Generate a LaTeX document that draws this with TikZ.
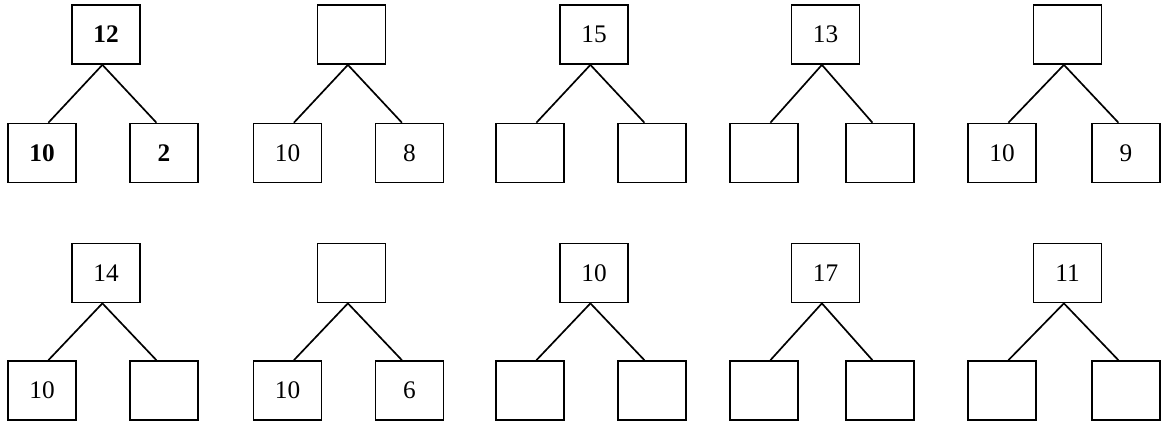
\documentclass[tikz,border=0pt]{standalone}
\usepackage{fontspec}
\setmainfont{Liberation Serif}
\usetikzlibrary{shapes}

\tikzset{
  numbox/.style={draw, line width=1.2pt, minimum width=1.7cm, minimum height=1.475cm,
    inner sep=0pt, font=\fontsize{18}{20}\selectfont},
  branch/.style={line width=1.2pt}
}

\begin{document}
\begin{tikzpicture}
  \useasboundingbox (0,0) rectangle (29.1,-10.525);
  %% Upper row
  \path (2.65,-0.8625) node(t1)[numbox] {\bf 12};
  \path (1.05,-3.825) node(l1)[numbox] {\bf 10};
  \path (4.1,-3.825) node(r1)[numbox] {\bf 2};

  \path (8.7875,-0.8625) node(t2)[numbox] {};
  \path (7.1875,-3.825) node(l2)[numbox] {10};
  \path (10.2375,-3.825) node(r2)[numbox] {8};

  \path (14.85,-0.8625) node(t3)[numbox] {15};
  \path (13.25,-3.825) node(l3)[numbox] {};
  \path (16.3,-3.825) node(r3)[numbox] {};

  \path (20.6375,-0.8625) node(t4)[numbox] {13};
  \path (19.1,-3.825) node(l4)[numbox] {};
  \path (22.0,-3.825) node(r4)[numbox] {};

  \path (26.6875,-0.8625) node(t5)[numbox] {};
  \path (25.05,-3.825) node(l5)[numbox] {10};
  \path (28.15,-3.825) node(r5)[numbox] {9};

  %% Lower row
  \path (2.65,-6.825) node(t6)[numbox] {14};
  \path (1.05,-9.7625) node(l6)[numbox] {10};
  \path (4.1,-9.7625) node(r6)[numbox] {};

  \path (8.7875,-6.825) node(t7)[numbox] {};
  \path (7.1875,-9.7625) node(l7)[numbox] {10};
  \path (10.2375,-9.7625) node(r7)[numbox] {6};

  \path (14.85,-6.825) node(t8)[numbox] {10};
  \path (13.25,-9.7625) node(l8)[numbox] {};
  \path (16.3,-9.7625) node(r8)[numbox] {};

  \path (20.6375,-6.825) node(t9)[numbox] {17};
  \path (19.1,-9.7625) node(l9)[numbox] {};
  \path (22.0,-9.7625) node(r9)[numbox] {};

  \path (26.6875,-6.825) node(t10)[numbox] {11};
  \path (25.05,-9.7625) node(l10)[numbox] {};
  \path (28.15,-9.7625) node(r10)[numbox] {};

  %% Branches
  \foreach \i in {1,...,10} {
    \draw[branch] ([xshift=-0.9mm]t\i.south) -- ([xshift=1.6mm]l\i.north);
    \draw[branch] ([xshift=-0.9mm]t\i.south) -- ([xshift=-1.9mm]r\i.north);
  }
\end{tikzpicture}
\end{document}
